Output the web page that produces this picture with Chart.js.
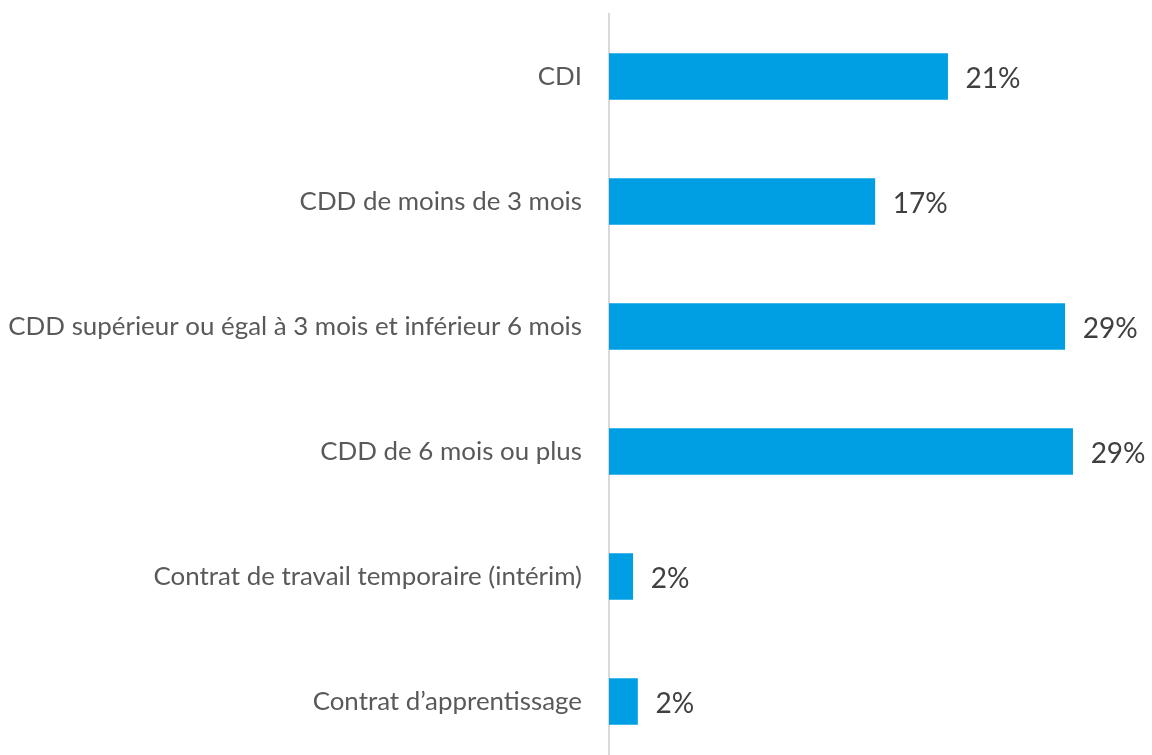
<!DOCTYPE html>
<html>
<head>
<meta charset="utf-8">
<script src="https://cdn.jsdelivr.net/npm/chart.js@4.4.1/dist/chart.umd.min.js"></script>
<style>
  html, body { margin: 0; padding: 0; background: #fff; overflow: hidden; }
  canvas { display: block; }
</style>
</head>
<body>
<canvas id="bar-chart" width="1152" height="765"></canvas>
<script>
let contractTypes = [
	"CDI",
	"CDD de moins de 3 mois",
	"CDD supérieur ou égal à 3 mois et inférieur 6 mois",
	"CDD de 6 mois ou plus",
	"Contrat de travail temporaire (intérim)",
	"Contrat d\u2019apprentissage"
];
let shares = [21.4, 16.8, 28.8, 29.3, 1.5, 1.8];

let FONT = "Lato, 'Open Sans', sans-serif";

// writes "xx%" just past the end of each bar
let valueLabels = {
	id: 'valueLabels',
	afterDatasetsDraw(chart) {
		let ctx = chart.ctx;
		let meta = chart.getDatasetMeta(0);
		ctx.save();
		ctx.font = "28px " + FONT;
		ctx.fillStyle = "#404040";
		ctx.textAlign = "left";
		ctx.textBaseline = "middle";
		meta.data.forEach(function(bar, i) {
			ctx.fillText(Math.round(shares[i]) + "%", bar.x + 18, bar.y + 2);
		});
		ctx.restore();
	}
};

let dataPlot = new Chart(document.getElementById("bar-chart"), {
	type: 'bar',
	data: {
		labels: contractTypes,
		datasets: [{
			data: shares,
			backgroundColor: "#009FE3",
			borderWidth: 0,
			barThickness: 46
		}]
	},
	options: {
		indexAxis: 'y',
		responsive: false,
		animation: false,
		layout: { padding: { top: 14, right: 5, bottom: 1, left: 0 } },
		plugins: { legend: { display: false }, tooltip: { enabled: false } },
		scales: {
			x: { display: false, min: 0, max: 34 },
			y: {
				grid: { display: false, drawTicks: false },
				border: { display: true, color: "#d9d9d9", width: 2 },
				ticks: { color: "#595959", font: { family: FONT, size: 25.9 }, padding: 27 },
				afterFit(scale) {
					// fixed axis width, no extra room for the end labels
					scale.width = 609;
					scale.paddingTop = 0;
					scale.paddingBottom = 0;
				}
			}
		}
	},
	plugins: [valueLabels]
});
</script>
</body>
</html>
